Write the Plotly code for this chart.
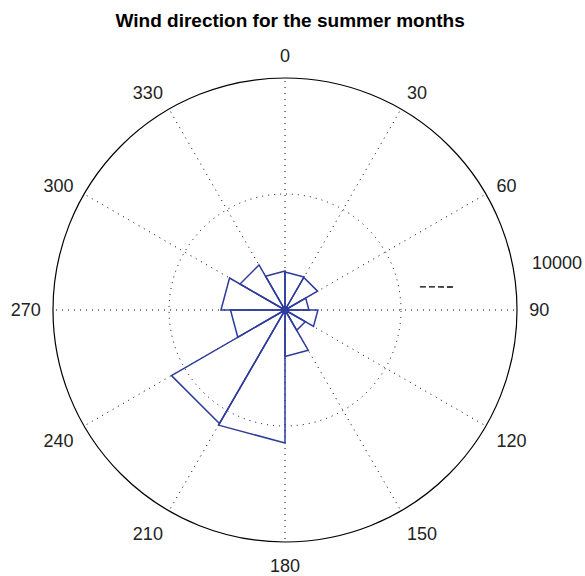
import plotly.graph_objects as go

# Rose (angle histogram) data: 12 bins of 30 degrees, compass directions
bin_start = [0, 30, 60, 90, 120, 150, 180, 210, 240, 270, 300, 330]
bin_width = 30
counts = [1640, 1620, 1030, 1420, 1010, 2000, 5730, 5650, 2350, 2760, 2240, 1680]

angle_ticks = [0, 30, 60, 90, 120, 150, 180, 210, 240, 270, 300, 330]
r_max = 10000
r_grid = [5000, 10000]
r_label = "10000"

BLUE = "#2E3B9C"
FONT = "Liberation Sans, Arial, sans-serif"

r_pts, th_pts = [], []
for a, v in zip(bin_start, counts):
    r_pts += [0, v, v, 0, None]
    th_pts += [a, a, a + bin_width, a + bin_width, None]

fig = go.Figure()
fig.add_trace(go.Scatterpolar(r=r_pts, theta=th_pts, mode="lines",
                              line=dict(color=BLUE, width=1.5),
                              hoverinfo="skip", showlegend=False))
fig.add_trace(go.Scatterpolar(r=[0], theta=[0], mode="markers",
                              marker=dict(color=BLUE, size=8),
                              hoverinfo="skip", showlegend=False))
# short dashed marker near the radial label
fig.add_trace(go.Scatterpolar(r=[5900, 7400], theta=[80.3, 82.3], mode="lines",
                              line=dict(color="black", width=1.3, dash="6px,3px"),
                              cliponaxis=False, hoverinfo="skip", showlegend=False))

W, H = 585, 576
cx, cy, R = 285, 310, 232
fig.update_layout(
    width=W, height=H,
    margin=dict(l=0, r=0, t=0, b=0),
    paper_bgcolor="white", plot_bgcolor="white",
    title=dict(text="<b>Wind direction for the summer months</b>", x=0.496, xanchor="center",
               y=1 - 20 / H, yanchor="middle",
               font=dict(family=FONT, size=19, color="black")),
    polar=dict(
        domain=dict(x=[(cx - R) / W, (cx + R) / W], y=[1 - (cy + R) / H, 1 - (cy - R) / H]),
        bgcolor="white",
        radialaxis=dict(range=[0, r_max], tickvals=r_grid, showticklabels=False,
                        ticks="", showline=False, gridcolor="black", gridwidth=1,
                        griddash="1px,5px"),
        angularaxis=dict(direction="clockwise", rotation=90,
                         tickmode="array", tickvals=angle_ticks,
                         ticktext=[str(t) for t in angle_ticks],
                         ticks="outside", ticklen=8, tickcolor="rgba(0,0,0,0)",
                         tickfont=dict(family=FONT, size=18, color="#222"),
                         showline=True, linecolor="black", linewidth=1.2,
                         gridcolor="black", gridwidth=1, griddash="1px,5px"),
    ),
    annotations=[dict(text=r_label, x=557 / W, y=1 - 263 / H, xref="paper", yref="paper",
                      xanchor="center", yanchor="middle", showarrow=False,
                      font=dict(family=FONT, size=18, color="#222"))],
)
fig.write_html("out.html", post_script="document.body.style.margin='0';",
               config={"displayModeBar": False})
